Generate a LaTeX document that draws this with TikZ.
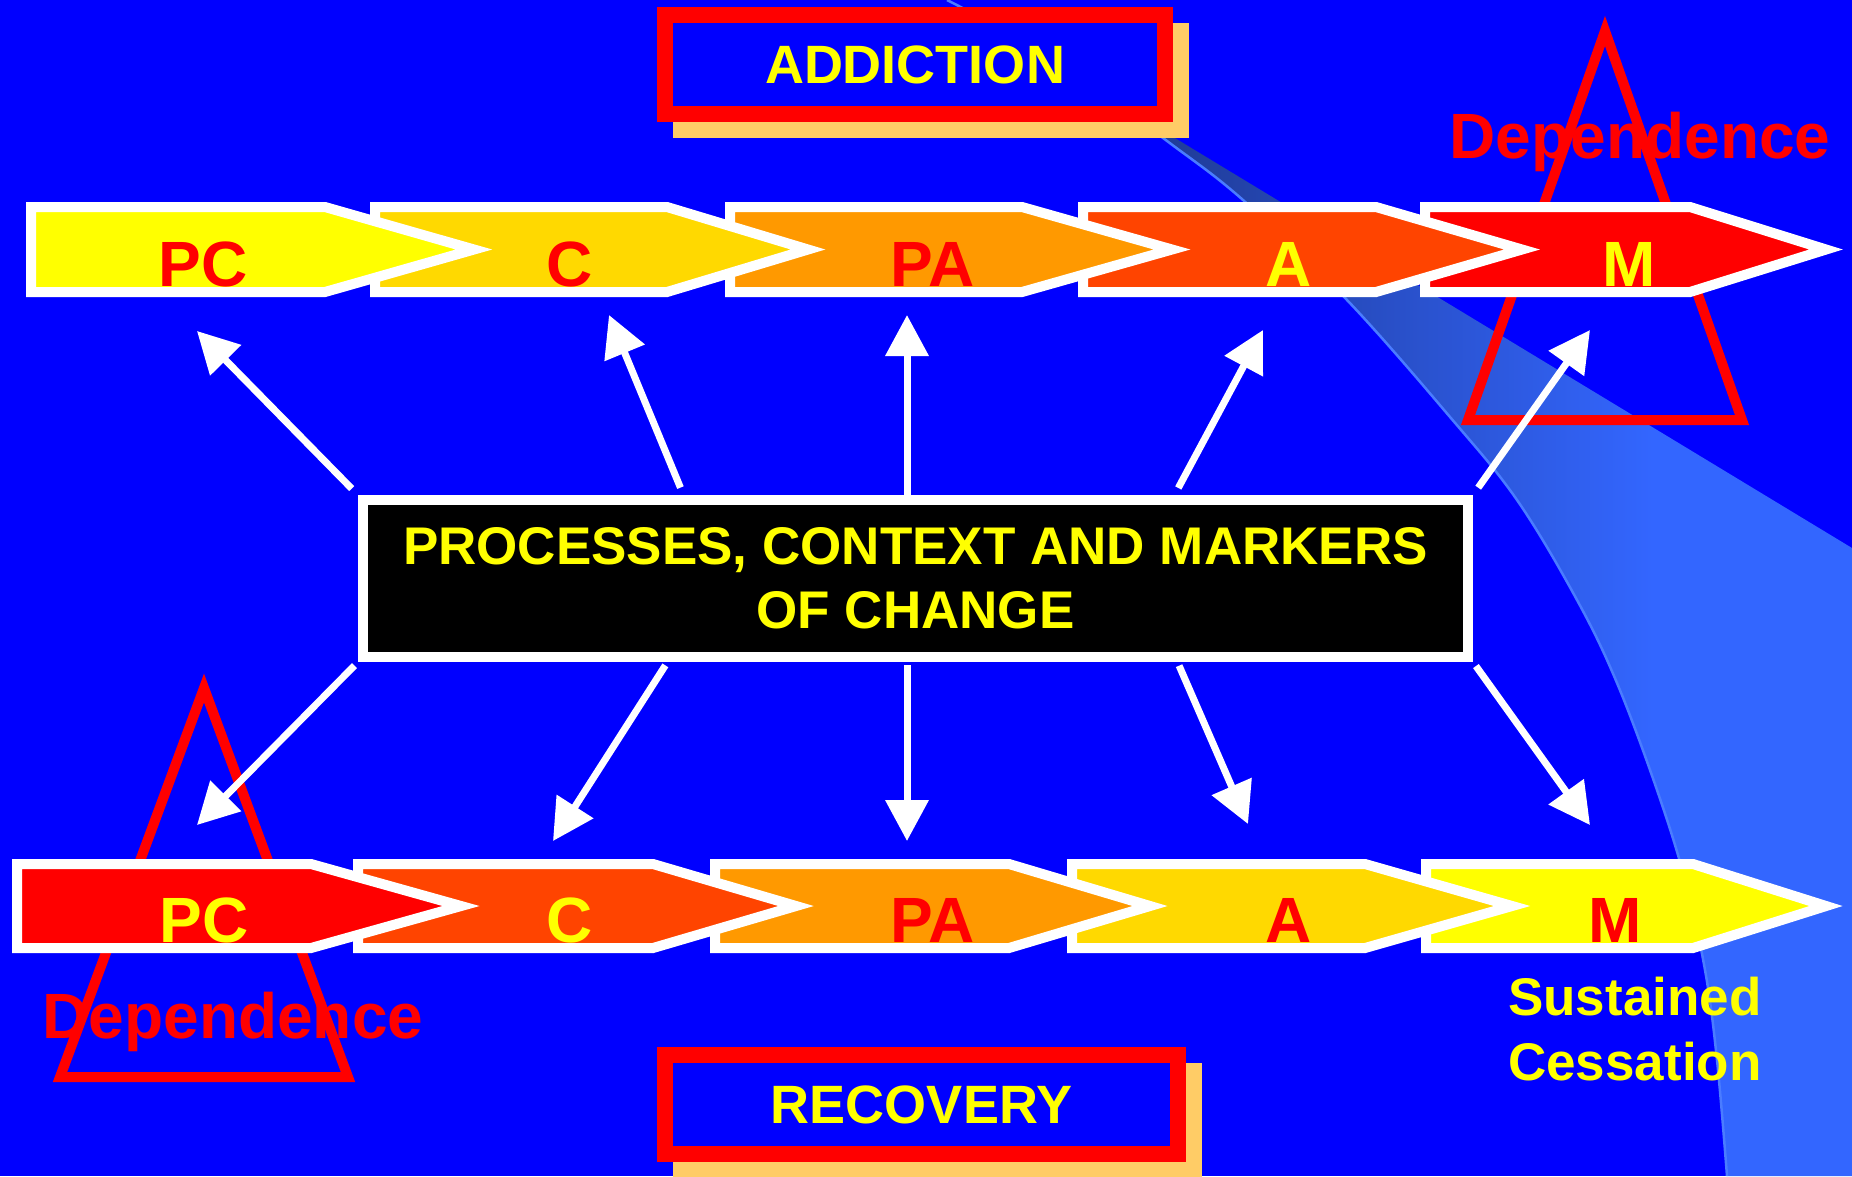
\documentclass[tikz,border=0pt]{standalone}
\usepackage{fontspec}
\setmainfont{Liberation Sans}
\usetikzlibrary{arrows.meta}

\definecolor{bgblue}{HTML}{0000FF}
\definecolor{swdark}{HTML}{1F3A94}
\definecolor{swlight}{HTML}{3366FF}
\definecolor{swedge}{HTML}{4A7CFF}
\definecolor{shadowc}{HTML}{FFCC66}
\definecolor{chYellow}{HTML}{FFFF00}
\definecolor{chGold}{HTML}{FFD900}
\definecolor{chOrange}{HTML}{FF9900}
\definecolor{chRedOr}{HTML}{FF4400}
\definecolor{chRed}{HTML}{FF0000}
\definecolor{txtYellow}{HTML}{FFFF00}
\definecolor{txtRed}{HTML}{FF0000}

\pgfdeclarehorizontalshading{swoosh}{100bp}{color(0bp)=(swdark); color(36bp)=(swdark); color(64bp)=(swlight); color(100bp)=(swlight)}

\begin{document}
\begin{tikzpicture}[x=1pt,y=-1pt,
  chev/.style={draw=white,line width=10pt,line join=miter},
  lbl/.style={font=\fontsize{64}{72}\selectfont\bfseries,inner sep=0pt,anchor=base},
  titlebox/.style={draw=chRed,fill=bgblue,line width=16pt,minimum height=99pt,inner sep=0pt,
    text=txtYellow,font=\fontsize{54}{64}\selectfont\bfseries},
  shadebox/.style={fill=shadowc,minimum height=115pt,inner sep=0pt},
  ctrbox/.style={draw=white,fill=black,line width=10pt,minimum width=1105pt,minimum height=157pt,
    inner sep=0pt,align=center,text=txtYellow,font=\fontsize{53}{64}\selectfont\bfseries},
  tri/.style={draw=chRed,line width=10pt,line join=miter},
  link/.style={draw=white,line width=7pt,-{Triangle[length=41pt,width=42pt]}}
]
\useasboundingbox (0,0) rectangle (1852,1176);
\fill[bgblue] (0,0) rectangle (1852,1176);

% swoosh in the background
\shade[shading=swoosh] plot[smooth,tension=0.6] coordinates {(947,0) (1060,62) (1163,138) (1243,200)
  (1347,300) (1450,417) (1517,500) (1577,600) (1617,683) (1657,790) (1685,880) (1705,970)
  (1717,1060) (1727,1176)} -- (1852,1176) -- (1852,548) -- cycle;
\draw[swedge,line width=2.5pt] plot[smooth,tension=0.6] coordinates {(947,0) (1060,62) (1163,138) (1243,200)
  (1347,300) (1450,417) (1517,500) (1577,600) (1617,683) (1657,790) (1685,880) (1705,970)
  (1717,1060) (1727,1176)};

% dependence triangles
\draw[tri] (1605,31) -- (1742,420) -- (1468,420) -- cycle;
\draw[tri] (204,688) -- (348,1077) -- (60,1077) -- cycle;

% title boxes
\coordinate (addc) at (915,64.5);
\node[shadebox,minimum width=516pt] (addsh) at ([shift={(16,16)}]addc) {};
\node[titlebox,minimum width=500pt] (addict) at (addc) {ADDICTION};
\coordinate (recc) at (921.5,1104.5);
\node[shadebox,minimum width=529pt] (recsh) at ([shift={(16,16)}]recc) {};
\node[titlebox,minimum width=513pt] (recov) at (recc) {RECOVERY};

% stage rows, drawn right to left
\foreach \l/\s/\t/\c in {1425/1690/1826/chRed,1083/1376/1522/chRedOr,730/1022/1172/chOrange,
    375/667/808/chGold,31/325/474/chYellow}
  \draw[chev,fill=\c] (\l,207) -- (\s,207) -- (\t,249.5) -- (\s,292) -- (\l,292) -- cycle;
\foreach \l/\s/\t/\c in {1426/1693/1826/chYellow,1072/1365/1512/chGold,715/1009/1150/chOrange,
    358/653/796/chRedOr,17/311/461/chRed}
  \draw[chev,fill=\c] (\l,864) -- (\s,864) -- (\t,906) -- (\s,948) -- (\l,948) -- cycle;

\foreach \n/\x/\c in {PC/203/txtRed,C/570/txtRed,PA/933/txtRed,A/1289/txtYellow,M/1629/txtYellow}
  \node[lbl,text=\c] (t\n) at (\x,286) {\n};
\foreach \n/\x/\c in {PC/204/txtYellow,C/570/txtYellow,PA/933/txtRed,A/1289/txtRed,M/1615/txtRed}
  \node[lbl,text=\c] (b\n) at (\x,942) {\n};

\node[lbl,text=txtRed] (depTop) at (1640,158) {Dependence};
\node[lbl,text=txtRed] (depBot) at (233,1038) {Dependence};
\node[inner sep=0pt,anchor=base west,align=left,text=txtYellow,
  font=\fontsize{53}{65}\selectfont\bfseries] (sustain) at (1508,1080) {Sustained\\Cessation};

% centre box and links
\node[ctrbox] (ctr) at (915.5,578.5) {PROCESSES, CONTEXT AND MARKERS\\OF CHANGE};

\coordinate (uPC) at (197,331);
\coordinate (uC) at (609,315);
\coordinate (uPA) at (907,315);
\coordinate (uA) at (1263,330);
\coordinate (uM) at (1590,330);
\coordinate (dPC) at (197,825);
\coordinate (dC) at (553,841);
\coordinate (dPA) at (907,841);
\coordinate (dA) at (1248,824);
\coordinate (dM) at (1590,825);

\draw[link,shorten <=9pt] (ctr.north west) -- (uPC);
\draw[link,shorten <=8pt] ([xshift=-232pt]ctr.north) -- (uC);
\draw[link] ([xshift=-8.5pt]ctr.north) -- (uPA);
\draw[link,shorten <=8pt] ([xshift=259pt]ctr.north) -- (uA);
\draw[link,shorten <=9pt] (ctr.north east) -- (uM);
\draw[link,shorten <=5pt] (ctr.south west) -- (dPC);
\draw[link,shorten <=4pt] ([xshift=-248pt]ctr.south) -- (dC);
\draw[link,shorten <=3pt] ([xshift=-8.5pt]ctr.south) -- (dPA);
\draw[link,shorten <=4pt] ([xshift=262pt]ctr.south) -- (dA);
\draw[link,shorten <=5pt] (ctr.south east) -- (dM);
\end{tikzpicture}
\end{document}
